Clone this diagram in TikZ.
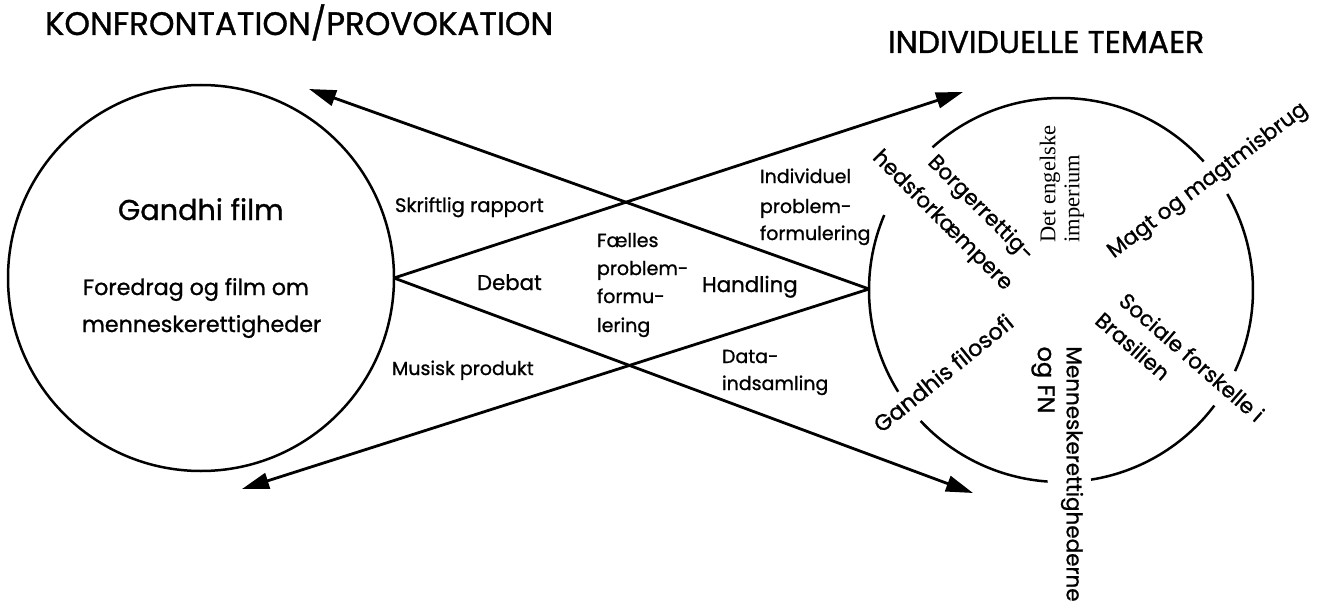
\documentclass[tikz,border=0pt]{standalone}
\usepackage{fontspec}
\setmainfont{Poppins}[FakeBold=1]
\newfontfamily\serifont{Liberation Serif}
\usetikzlibrary{arrows.meta}
\begin{document}
\begin{tikzpicture}[x=1pt,y=-1pt,
  txt/.style={inner sep=0pt, outer sep=0pt},
  mid/.style={txt, font=\fontsize{19}{26}\selectfont},
  big/.style={txt, font=\fontsize{21.3}{28}\selectfont},
  rlab/.style={txt, font=\fontsize{21.5}{28}\selectfont},
  conn/.style={line width=2.8pt, -{Triangle[length=27pt,width=16pt]}},
  ring/.style={line width=2.5pt}]
\useasboundingbox (0,0) rectangle (1320,610);
% left circle
\node[circle, draw, line width=2.5pt, minimum size=386pt, inner sep=0pt, outer sep=0pt] (gandhi) at (201,278) {};
% right broken circle
\coordinate (tema) at (1061,290);
\coordinate (temaW) at (869,289);
\draw[ring] (tema) ++(-42:192) arc[start angle=-42, end angle=-132, radius=192];
\draw[ring] (tema) ++(-157:192) arc[start angle=-157, end angle=-212, radius=192];
\draw[ring] (tema) ++(-223:192) arc[start angle=-223, end angle=-266, radius=192];
\draw[ring] (tema) ++(81:192) arc[start angle=81, end angle=37, radius=192];
\draw[ring] (tema) ++(25:192) arc[start angle=25, end angle=-30, radius=192];
% arrow end points
\coordinate (a1) at (963,92);
\coordinate (a2) at (973,493);
\coordinate (a3) at (309,89);
\coordinate (a4) at (242,489);
\draw[conn] (gandhi.east) -- (a1);
\draw[conn] (gandhi.east) -- (a2);
\draw[conn] (temaW) -- (a3);
\draw[conn] (temaW) -- (a4);
% titles
\node[txt, font=\fontsize{32.5}{36}\selectfont, anchor=base west] (t1) at (45,35) {KONFRONTATION/PROVOKATION};
\node[txt, font=\fontsize{31.4}{36}\selectfont, anchor=base west] (t2) at (888,53) {INDIVIDUELLE TEMAER};
% left circle texts
\node[txt, font=\fontsize{28.7}{32}\selectfont, anchor=base west] (g1) at (118,220) {Gandhi film};
\node[txt, font=\fontsize{22.2}{28}\selectfont, anchor=base west] (g2) at (83,295) {Foredrag og film om};
\node[txt, font=\fontsize{22.2}{28}\selectfont, anchor=base west] (g3) at (82,332) {menneskerettigheder};
% middle labels
\node[mid, font=\fontsize{19.5}{26}\selectfont, anchor=base west] (m1) at (395,212) {Skriftlig rapport};
\node[mid, anchor=base west] (m2) at (392,375) {Musisk produkt};
\node[big, anchor=base west] (m3) at (477,290) {Debat};
\node[mid, anchor=base west] (m4) at (597,247) {Fælles};
\node[mid, anchor=base west] (m5) at (597,275) {problem-};
\node[mid, anchor=base west] (m6) at (597,303) {formu-};
\node[mid, anchor=base west] (m7) at (597,332) {lering};
\node[big, anchor=base west] (m8) at (702,292) {Handling};
\node[mid, anchor=base west] (m9) at (760,183) {Individuel};
\node[mid, anchor=base west] (m10) at (760,213) {problem-};
\node[mid, anchor=base west] (m11) at (760,240) {formulering};
\node[mid, anchor=base west] (m12) at (722,363) {Data-};
\node[mid, anchor=base west] (m13) at (722,390) {indsamling};
% right circle texts
\node[txt, font=\serifont\fontsize{22.5}{24}\selectfont, rotate=90, align=left] (r1) at (1062,184) {Det engelske\\imperium};
\node[rlab, rotate=-45] (r2) at (980,209) {Borgerrettig-};
\node[rlab, rotate=-45] (r3) at (942,221) {hedsforkæmpere};
\node[rlab, rotate=37] (r4) at (1208,181) {Magt og magtmisbrug};
\node[rlab, rotate=-41] (r5) at (1192,357) {Sociale forskelle i};
\node[rlab, rotate=-41] (r6) at (1133,346) {Brasilien};
\node[rlab, font=\fontsize{22.5}{28}\selectfont, rotate=39] (r7) at (943,373) {Gandhis filosofi};
\node[rlab, rotate=-90] (r8) at (1072,474) {Menneskerettighederne};
\node[rlab, font=\fontsize{24}{28}\selectfont, rotate=-90] (r9) at (1043,380) {og FN};
\end{tikzpicture}
\end{document}
